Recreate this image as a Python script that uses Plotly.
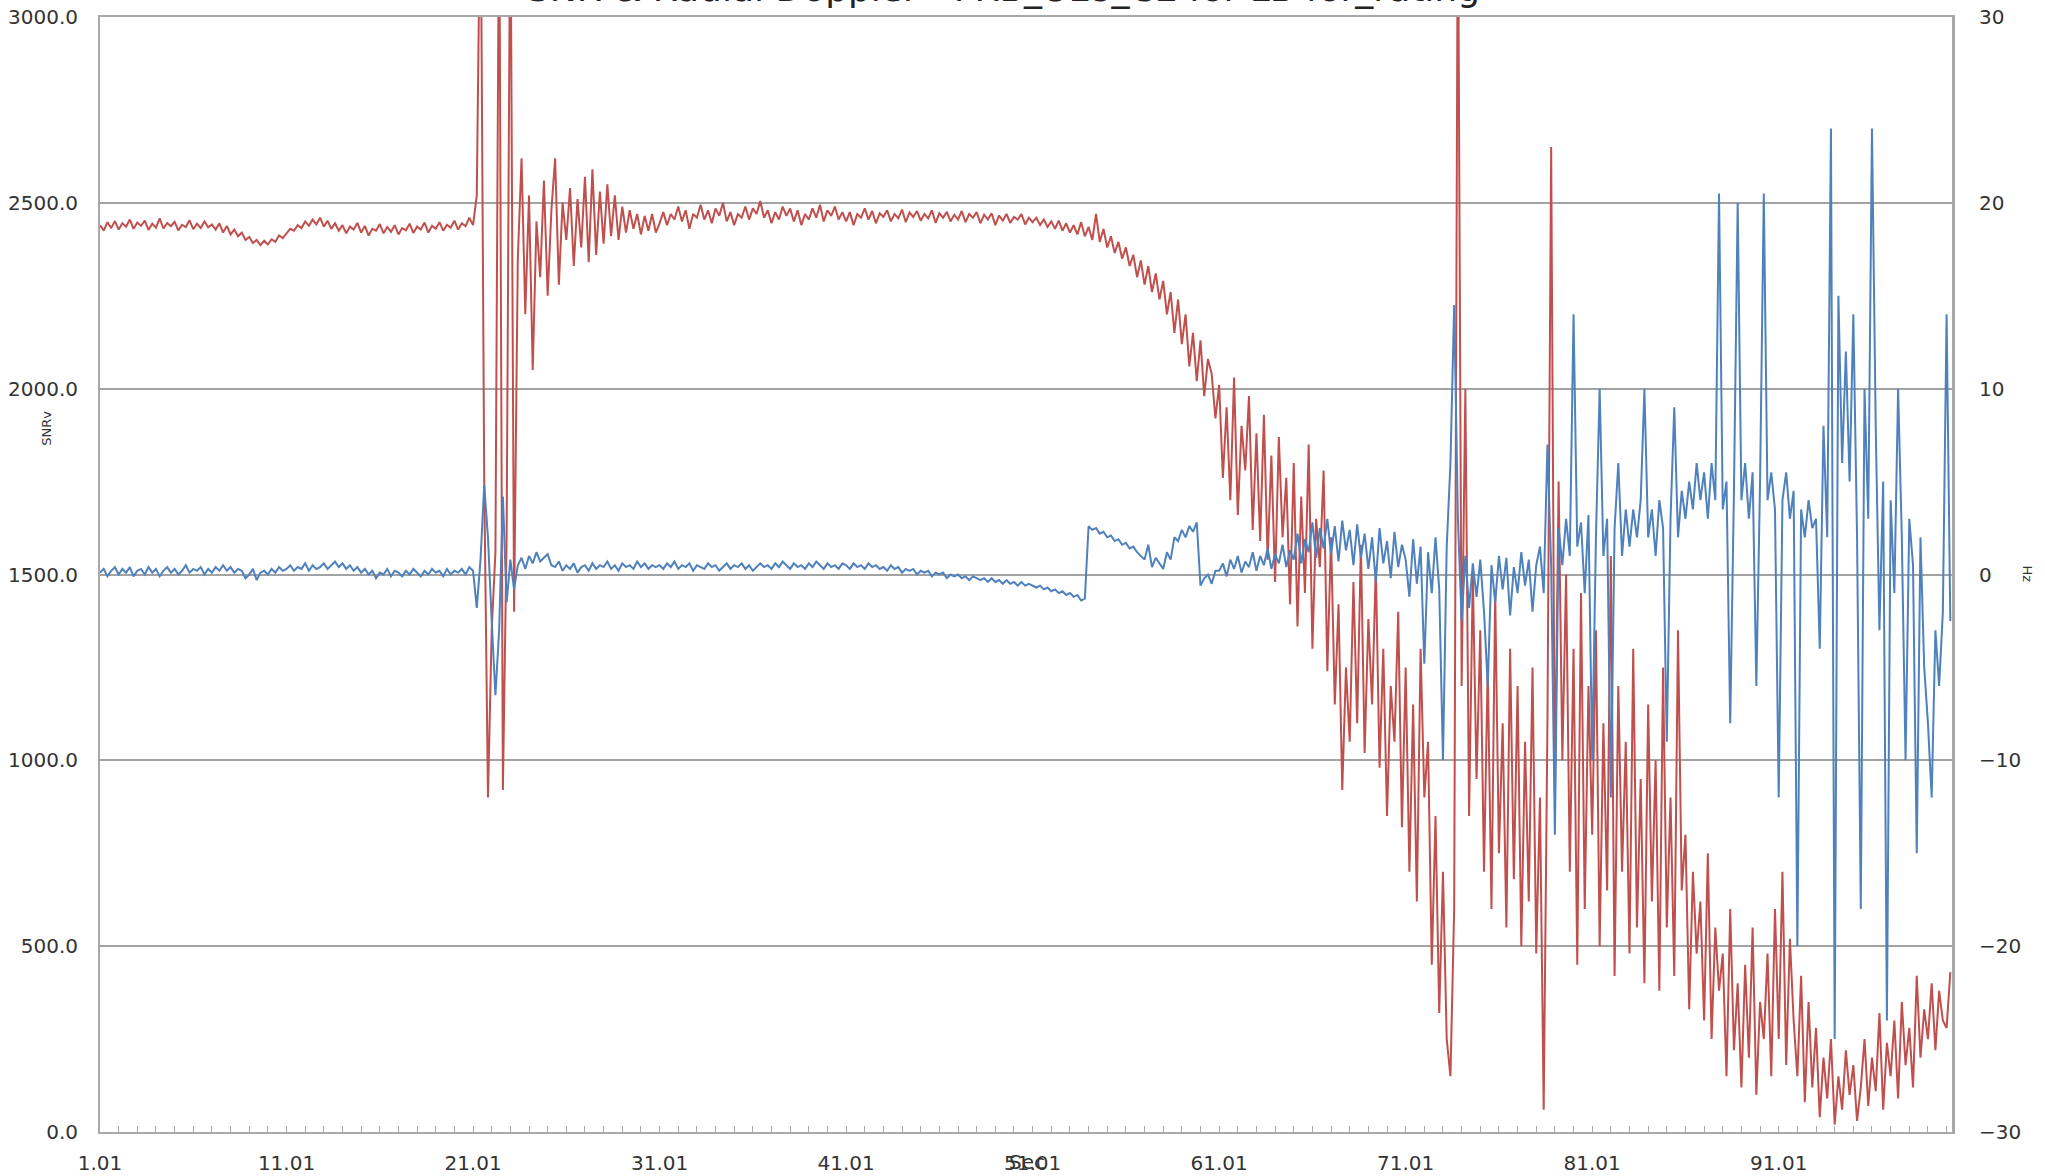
import plotly.graph_objects as go
from plotly.subplots import make_subplots

# ---------------- data (sampled every 0.2 s, starting at 1.01 s) ----------------
t_start = 1.01
t_step = 0.2

snr_01_10 = [2440, 2425, 2448, 2432, 2451, 2428, 2445, 2436, 2455, 2430,
             2447, 2438, 2452, 2427, 2444, 2433, 2458, 2431, 2446, 2437,
             2449, 2426, 2441, 2435, 2453, 2429, 2444, 2432, 2450, 2434,
             2442, 2428, 2445, 2420, 2438, 2415, 2428, 2410, 2420, 2400,
             2408, 2392, 2400, 2386, 2398, 2388, 2402, 2395, 2412, 2405]
snr_11_20 = [2418, 2430, 2425, 2440, 2432, 2450, 2438, 2455, 2442, 2460,
             2436, 2452, 2430, 2445, 2425, 2440, 2418, 2436, 2428, 2446,
             2420, 2438, 2412, 2430, 2425, 2443, 2418, 2435, 2422, 2440,
             2415, 2432, 2426, 2444, 2419, 2436, 2428, 2447, 2420, 2438,
             2430, 2448, 2425, 2441, 2433, 2452, 2428, 2445, 2437, 2460]
snr_21_30 = [2440, 2520, 3400, 1750, 900, 1350, 1560, 3400, 920, 1600,
             3400, 1400, 2350, 2620, 2200, 2520, 2050, 2450, 2300, 2560,
             2250, 2480, 2620, 2280, 2500, 2400, 2540, 2330, 2510, 2380,
             2570, 2340, 2590, 2360, 2530, 2390, 2550, 2410, 2520, 2400,
             2490, 2420, 2480, 2430, 2470, 2415, 2465, 2425, 2470, 2420]
snr_31_40 = [2445, 2475, 2440, 2470, 2455, 2490, 2450, 2480, 2430, 2470,
             2460, 2495, 2455, 2480, 2445, 2485, 2465, 2500, 2450, 2475,
             2440, 2470, 2460, 2490, 2455, 2485, 2470, 2505, 2460, 2480,
             2445, 2475, 2455, 2490, 2465, 2485, 2450, 2480, 2440, 2470,
             2455, 2485, 2460, 2495, 2450, 2480, 2465, 2490, 2455, 2475]
snr_41_50 = [2450, 2475, 2440, 2470, 2460, 2485, 2455, 2478, 2445, 2472,
             2462, 2480, 2450, 2470, 2458, 2482, 2448, 2474, 2462, 2478,
             2452, 2470, 2458, 2480, 2446, 2472, 2460, 2476, 2450, 2468,
             2455, 2478, 2448, 2470, 2460, 2475, 2445, 2468, 2455, 2472,
             2440, 2466, 2452, 2470, 2446, 2462, 2455, 2470, 2442, 2460]
snr_51_60 = [2448, 2460, 2440, 2455, 2435, 2450, 2430, 2452, 2425, 2445,
             2420, 2440, 2415, 2448, 2410, 2435, 2400, 2470, 2395, 2430,
             2380, 2410, 2365, 2395, 2350, 2380, 2330, 2360, 2300, 2345,
             2280, 2330, 2260, 2310, 2240, 2290, 2200, 2260, 2150, 2240,
             2120, 2200, 2060, 2150, 2020, 2130, 1980, 2080, 2040, 1920]
snr_61_70 = [2010, 1760, 1950, 1700, 2030, 1660, 1900, 1780, 1980, 1620,
             1880, 1590, 1930, 1540, 1820, 1480, 1870, 1600, 1760, 1420,
             1800, 1360, 1710, 1450, 1850, 1300, 1650, 1520, 1780, 1240,
             1600, 1150, 1420, 920, 1250, 1050, 1480, 1100, 1580, 1020,
             1380, 1150, 1520, 980, 1300, 850, 1200, 1050, 1400, 820]
snr_71_80 = [1250, 700, 1150, 620, 1300, 900, 1050, 450, 850, 320,
             700, 250, 150, 600, 3400, 1200, 2000, 850, 1500, 950,
             1350, 700, 1250, 600, 1450, 750, 1100, 550, 1300, 680,
             1200, 500, 1050, 620, 1250, 480, 900, 60, 1100, 2650,
             900, 1750, 1000, 1500, 700, 1300, 450, 1450, 600, 1200]
snr_81_90 = [800, 1350, 500, 1100, 650, 1550, 420, 1200, 700, 1050,
             480, 1300, 550, 950, 400, 1150, 620, 1000, 380, 1250,
             550, 900, 420, 1350, 650, 800, 330, 700, 480, 620,
             300, 750, 250, 550, 380, 480, 150, 600, 220, 400,
             120, 450, 200, 550, 100, 350, 250, 480, 150, 600]
snr_91_100 = [250, 700, 180, 520, 300, 150, 420, 80, 350, 120,
              280, 40, 200, 90, 250, 20, 150, 60, 220, 100,
              180, 30, 120, 250, 70, 200, 110, 320, 60, 240,
              150, 300, 90, 350, 180, 280, 120, 420, 200, 330,
              250, 400, 220, 380, 300, 280, 430]

dop_01_10 = [0.1, 0.3, -0.1, 0.2, 0.4, 0.0, 0.3, 0.1, 0.4, -0.1,
             0.2, 0.3, 0.0, 0.4, 0.1, 0.3, -0.1, 0.2, 0.4, 0.1,
             0.3, 0.0, 0.2, 0.5, 0.1, 0.3, 0.2, 0.4, 0.0, 0.3,
             0.1, 0.4, 0.2, 0.5, 0.2, 0.4, 0.1, 0.3, 0.2, -0.2,
             0.0, 0.3, -0.3, 0.1, 0.2, 0.0, 0.3, 0.1, 0.4, 0.2]
dop_11_20 = [0.3, 0.5, 0.2, 0.4, 0.3, 0.6, 0.2, 0.5, 0.3, 0.4,
             0.6, 0.3, 0.5, 0.7, 0.4, 0.6, 0.3, 0.5, 0.2, 0.4,
             0.1, 0.3, 0.0, 0.2, -0.2, 0.1, 0.0, 0.3, -0.1, 0.2,
             0.1, -0.1, 0.2, 0.0, 0.3, 0.1, -0.1, 0.2, 0.0, 0.3,
             0.1, 0.2, -0.1, 0.3, 0.0, 0.2, 0.1, 0.3, 0.0, 0.4]
dop_21_30 = [0.2, -1.8, 0.8, 4.8, 2.0, -2.5, -6.5, -3.0, 4.2, -1.5,
             0.8, -0.8, 0.5, 0.9, 0.3, 1.0, 0.6, 1.2, 0.7, 0.9,
             1.1, 0.5, 0.4, 0.7, 0.2, 0.5, 0.3, 0.6, 0.1, 0.4,
             0.5, 0.2, 0.6, 0.3, 0.5, 0.4, 0.7, 0.3, 0.5, 0.2,
             0.6, 0.4, 0.5, 0.3, 0.7, 0.4, 0.6, 0.3, 0.5, 0.4]
dop_31_40 = [0.5, 0.3, 0.6, 0.4, 0.7, 0.3, 0.5, 0.4, 0.6, 0.2,
             0.5, 0.4, 0.3, 0.6, 0.4, 0.5, 0.2, 0.4, 0.6, 0.3,
             0.5, 0.4, 0.6, 0.3, 0.5, 0.2, 0.4, 0.6, 0.4, 0.5,
             0.3, 0.6, 0.4, 0.7, 0.5, 0.3, 0.6, 0.4, 0.5, 0.3,
             0.6, 0.4, 0.7, 0.5, 0.3, 0.6, 0.4, 0.5, 0.3, 0.6]
dop_41_50 = [0.5, 0.3, 0.6, 0.4, 0.5, 0.3, 0.6, 0.4, 0.5, 0.3,
             0.4, 0.2, 0.5, 0.3, 0.4, 0.1, 0.3, 0.2, 0.3, 0.0,
             0.2, 0.1, 0.2, -0.1, 0.1, 0.0, 0.1, -0.2, 0.0, -0.1,
             0.0, -0.2, -0.1, -0.3, -0.1, -0.2, -0.3, -0.2, -0.4, -0.2,
             -0.4, -0.3, -0.5, -0.3, -0.5, -0.4, -0.6, -0.4, -0.6, -0.5]
dop_51_60 = [-0.6, -0.7, -0.6, -0.8, -0.7, -0.9, -0.8, -1.0, -0.9, -1.1,
             -1.0, -1.2, -1.1, -1.4, -1.3, 2.6, 2.4, 2.5, 2.2, 2.3,
             2.0, 2.1, 1.8, 1.9, 1.6, 1.7, 1.4, 1.5, 1.2, 1.0,
             0.8, 1.6, 0.4, 0.9, 0.6, 0.3, 1.2, 0.8, 2.0, 1.8,
             2.4, 2.0, 2.6, 2.3, 2.8, -0.6, -0.2, 0.0, -0.5, 0.2]
dop_61_70 = [0.2, 0.6, -0.1, 0.8, 0.3, 1.0, 0.1, 0.7, 0.4, 1.2,
             0.2, 1.0, 0.5, 1.4, 0.3, 1.1, 0.6, 1.6, 0.4, 1.3,
             0.8, 2.2, 0.6, 1.9, 1.2, 2.8, 0.9, 2.5, 1.4, 3.0,
             1.1, 2.6, 0.7, 2.9, 1.3, 2.4, 0.5, 2.7, 0.9, 2.2,
             0.3, 2.0, -0.4, 2.5, 0.6, 1.8, -0.2, 2.3, 0.4, 1.6]
dop_71_80 = [0.8, -1.2, 1.9, -0.5, 1.5, -4.8, 1.2, -1.0, 2.0, -0.8,
             -10.0, 1.5, 6.0, 14.5, 3.0, -2.5, 1.0, -1.8, 0.6, -1.2,
             0.8, -2.0, -6.0, 0.5, -1.5, 1.0, -0.8, 0.9, -2.2, 0.4,
             -1.0, 1.2, -0.6, 0.8, -2.0, 0.5, 1.5, -1.0, 7.0, 0.5,
             -14.0, 2.5, 0.5, 3.0, 1.0, 14.0, 1.5, 2.8, -1.0, 3.2]
dop_81_90 = [-10.0, 2.0, 10.0, 1.0, 3.0, -12.0, 2.5, 6.0, 1.0, 3.5,
             1.5, 3.5, 2.0, 4.0, 10.0, 2.0, 3.5, 1.0, 4.0, 2.5,
             -9.0, 3.0, 9.0, 2.0, 4.5, 3.0, 5.0, 3.5, 6.0, 4.0,
             5.5, 3.0, 6.0, 4.0, 20.5, 3.5, 5.0, -8.0, 4.5, 20.0,
             4.0, 6.0, 3.0, 5.5, -6.0, 5.0, 20.5, 4.0, 5.5, 3.5]
dop_91_100 = [-12.0, 4.0, 5.5, 3.0, 4.5, -20.0, 3.5, 2.0, 4.0, 2.5,
              3.0, -4.0, 8.0, 2.0, 24.0, -25.0, 15.0, 6.0, 12.0, 5.0,
              14.0, 2.0, -18.0, 10.0, 3.0, 24.0, 8.0, -3.0, 5.0, -24.0,
              4.0, -1.0, 10.0, 2.0, -10.0, 3.0, 0.5, -15.0, 2.0, -5.0,
              -8.0, -12.0, -3.0, -6.0, -2.0, 14.0, -2.5]

tick_labels = ["1.01", "11.01", "21.01", "31.01", "41.01", "51.01",
               "61.01", "71.01", "81.01", "91.01"]

title_text = "SNR & Radial Doppler - FRB_UL8_CE for LB for_rating"

# ---------------- assemble ----------------
snr = (snr_01_10 + snr_11_20 + snr_21_30 + snr_31_40 + snr_41_50 +
       snr_51_60 + snr_61_70 + snr_71_80 + snr_81_90 + snr_91_100)
dop = (dop_01_10 + dop_11_20 + dop_21_30 + dop_31_40 + dop_41_50 +
       dop_51_60 + dop_61_70 + dop_71_80 + dop_81_90 + dop_91_100)
t = [round(t_start + t_step * i, 2) for i in range(len(snr))]
tick_vals = [float(s) for s in tick_labels]

RED = "#C0504D"
BLUE = "#4F81BD"
GRID = "#a3a3a3"
AXIS = "#a8a8a8"
FONT = "DejaVu Sans"
TXT = "#333333"

fig = make_subplots(specs=[[{"secondary_y": True}]])
fig.add_trace(go.Scatter(x=t, y=snr, mode="lines", name="SNRv",
                         line=dict(color=RED, width=2)), secondary_y=False)
fig.add_trace(go.Scatter(x=t, y=dop, mode="lines", name="Hz",
                         line=dict(color=BLUE, width=2)), secondary_y=True)

fig.update_layout(
    width=2045, height=1176,
    margin=dict(l=100, r=93, t=17, b=44, autoexpand=False),
    paper_bgcolor="white", plot_bgcolor="white",
    showlegend=False,
    font=dict(family=FONT, size=20, color=TXT),
)

fig.update_xaxes(
    domain=[0, 1], automargin=False,
    range=[1.01, 100.3],
    tickmode="array", tickvals=tick_vals, ticktext=tick_labels,
    ticks="inside", ticklen=6, tickcolor=AXIS, tickwidth=1,
    minor=dict(tick0=1.01, dtick=1, ticks="inside", ticklen=6,
               tickcolor=AXIS, tickwidth=1, showgrid=False),
    showgrid=False, zeroline=False,
    showline=True, linecolor=AXIS, linewidth=2, mirror=True,
    ticklabelstandoff=12,
    tickfont=dict(family=FONT, size=20, color=TXT),
)
fig.update_yaxes(
    automargin=False,
    range=[0, 3000], tickvals=[0, 500, 1000, 1500, 2000, 2500, 3000],
    tickformat=".1f",
    showgrid=True, gridcolor=GRID, gridwidth=1.6,
    zeroline=False, showline=True, linecolor=AXIS, linewidth=2,
    ticks="", ticklabelstandoff=16,
    tickfont=dict(family=FONT, size=20, color=TXT),
    secondary_y=False,
)
fig.update_yaxes(
    automargin=False,
    range=[-30, 30], tickvals=[-30, -20, -10, 0, 10, 20, 30],
    showgrid=False, zeroline=False, showline=True, linecolor=AXIS, linewidth=3,
    ticks="", ticklabelstandoff=20,
    tickfont=dict(family=FONT, size=20, color=TXT),
    secondary_y=True,
)

fig.add_annotation(text=title_text, xref="paper", yref="paper",
                   x=0.4876, y=1, xanchor="center", yanchor="bottom", yshift=6,
                   showarrow=False, font=dict(family=FONT, size=36, color="#222222"))
fig.add_annotation(text="SNRv", xref="paper", yref="paper",
                   x=-0.029, xanchor="center", y=0.631, yanchor="middle", textangle=-90,
                   showarrow=False, font=dict(family=FONT, size=13, color=TXT))
fig.add_annotation(text="Hz", xref="paper", yref="paper",
                   x=1.041, xanchor="center", y=0.5, yanchor="middle", textangle=90,
                   showarrow=False, font=dict(family=FONT, size=13, color=TXT))
fig.add_annotation(text="Sec", xref="x", yref="paper",
                   x=51.01, y=0, yanchor="top", yshift=-16, xanchor="center", xshift=-6,
                   showarrow=False, font=dict(family=FONT, size=20, color=TXT))

fig.write_html("out.html",
               config={"displayModeBar": False},
               post_script="document.body.style.margin='0';document.body.style.overflow='hidden';")
